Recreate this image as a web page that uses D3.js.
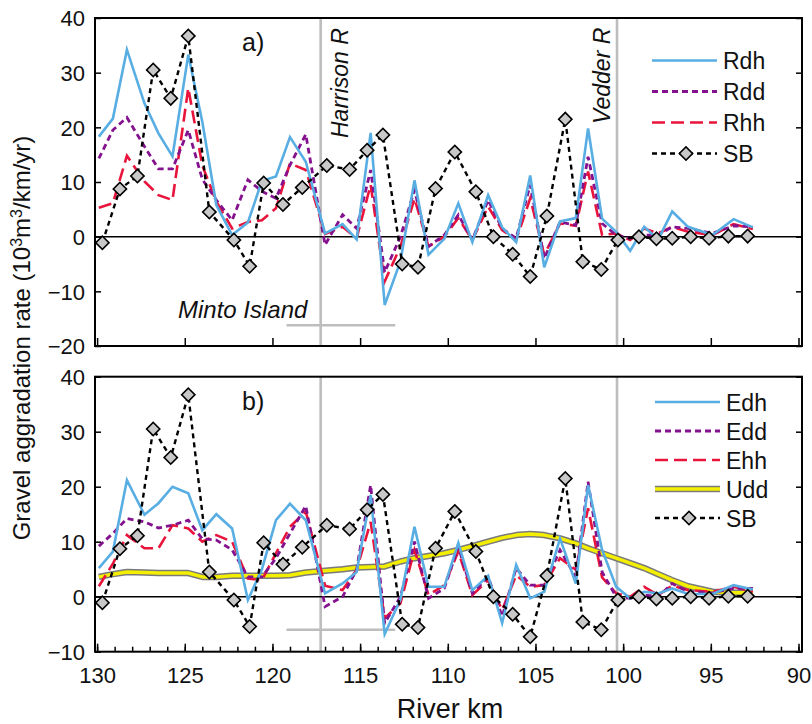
<!DOCTYPE html>
<html>
<head>
<meta charset="utf-8">
<script src="https://cdn.jsdelivr.net/npm/d3@7"></script>
<style>
  body { margin: 0; background: #fff; }
  svg text { font-family: "Liberation Sans", Arial, Helvetica, sans-serif; fill: #111; }
</style>
</head>
<body>
<div id="chart"></div>
<script>
// model nodes (river km) shared by all model runs
const modelKm = [129.9, 129.1, 128.3, 127.3, 126.5, 125.7, 124.8, 124.0, 123.2, 122.3, 121.4, 120.6, 119.8, 119.0, 118.1, 117.0,
  116.0, 115.2, 114.4, 113.6, 112.7, 111.9, 111.1, 110.2, 109.4, 108.6, 107.7, 106.9, 106.1, 105.3, 104.5, 103.6,
  102.7, 102.0, 101.2, 100.4, 99.6, 98.8, 98.0, 97.2, 96.3, 94.9, 93.7, 92.6];

const Rdh = [18.3, 21.6, 34.2, 24.4, 18.9, 14.7, 33.3, 21.0, 5.8, 0.3, 2.6, 10.2, 11.0, 18.2, 13.7, 0.6,
  2.3, -0.5, 19.0, -12.5, -4.5, 10.3, -3.3, -0.4, 6.1, -1.0, 7.6, 1.7, -1.0, 11.2, -5.6, 2.8,
  3.4, 19.8, 3.3, 0.9, -2.6, 1.8, -0.5, 4.6, 1.8, 0.3, 3.2, 1.7];
const Rdd = [14.3, 19.5, 21.8, 16.5, 12.4, 12.4, 19.5, 10.5, 6.7, 3.0, 10.4, 8.3, 7.0, 13.1, 18.7, -1.5,
  4.0, 1.5, 12.2, -6.5, 0.0, 8.5, -1.8, 0.3, 4.0, -0.6, 6.7, 1.5, -0.3, 9.5, -4.0, 2.7,
  2.1, 14.6, 2.4, 0.3, -0.3, 0.3, 0.3, 1.8, 1.5, 0.6, 2.0, 1.8];
const Rhh = [5.3, 6.1, 14.8, 10.1, 7.6, 6.7, 27.2, 13.0, 6.4, 1.5, 2.7, 3.0, 5.2, 13.4, 12.2, 0.5,
  1.8, -0.3, 9.5, -8.2, -1.8, 7.0, -1.8, 0.0, 3.4, -0.6, 5.5, 1.2, -0.6, 7.0, -3.3, 2.4,
  2.0, 11.9, 0.3, 0.6, -0.6, 1.5, 0.6, 1.8, 0.9, 0.3, 2.3, 1.4];

const Edh = [5.2, 8.2, 21.2, 14.9, 17.0, 20.0, 18.8, 12.1, 15.0, 12.4, -0.6, 5.0, 13.9, 16.9, 13.9, 0.6,
  2.4, 4.5, 18.5, -6.8, -0.5, 12.7, 1.8, 1.8, 9.8, 1.2, 3.8, -4.8, 5.8, -0.3, 0.9, 10.6,
  2.4, 20.3, 8.5, 1.8, -0.3, 0.9, 0.6, 1.5, 0.5, 0.5, 2.1, 1.3];
const Edd = [9.2, 11.5, 14.2, 13.6, 12.5, 13.0, 13.9, 10.5, 10.3, 8.5, 3.6, 3.6, 7.0, 11.5, 16.5, -1.8,
  0.0, 4.9, 20.3, -4.8, 0.0, 10.0, -0.3, 1.5, 9.1, 0.6, 3.6, -3.6, 5.2, 2.1, 2.1, 8.5,
  3.6, 20.9, 4.5, 0.0, -0.3, 0.3, 0.0, 2.4, 0.9, 0.7, 1.5, 1.5];
const Ehh = [1.9, 6.0, 11.2, 8.8, 8.8, 13.0, 12.4, 10.0, 11.2, 10.0, 3.3, 3.0, 7.9, 12.7, 15.5, 2.0,
  1.2, 4.9, 13.6, -3.9, -1.2, 8.5, 0.3, 2.1, 8.2, 0.3, 3.0, -2.4, 3.9, 1.8, 2.1, 7.0,
  4.9, 16.1, 3.5, 0.6, 0.0, 1.8, 0.3, 2.0, 1.2, 0.9, 1.8, 0.9];
const Udd = [3.6, 4.1, 4.5, 4.4, 4.3, 4.3, 4.3, 3.6, 3.6, 3.8, 3.8, 3.8, 3.8, 3.9, 4.4, 4.7,
  5.0, 5.3, 5.4, 5.5, 6.4, 7.0, 7.4, 7.9, 8.5, 9.2, 10.0, 10.7, 11.2, 11.4, 11.2, 10.6,
  9.7, 8.8, 7.9, 7.0, 6.1, 5.2, 4.1, 3.0, 1.9, 0.9, 0.7, 0.7];

// sediment budget (SB)
const sbKm = [129.7, 128.7, 127.7, 126.8, 125.8, 124.8, 123.6, 122.2, 121.3, 120.5, 119.4, 118.3, 116.9, 115.6, 114.6, 113.7,
  112.6, 111.7, 110.7, 109.6, 108.4, 107.4, 106.3, 105.3, 104.35, 103.3, 102.3, 101.25, 100.3, 99.1, 98.1, 97.2,
  96.15, 95.1, 94.0, 92.9];
const sbVal = [-1.1, 8.7, 11.1, 30.5, 25.3, 36.7, 4.5, -0.6, -5.4, 9.8, 5.9, 9.0, 13.0, 12.3, 15.8, 18.6,
  -5.0, -5.6, 8.8, 15.5, 8.2, 0.0, -3.2, -7.3, 3.8, 21.5, -4.6, -6.0, -0.6, 0.0, -0.4, -0.3,
  0.0, -0.3, 0.1, 0.1];

const xTicks = [130, 125, 120, 115, 110, 105, 100, 95, 90];
const yTicksA = [-20, -10, 0, 10, 20, 30, 40];
const yTicksB = [-10, 0, 10, 20, 30, 40];

const harrisonKm = 117.25, vedderKm = 100.35;
const mintoKm = [119.2, 113.0];

const width = 812, height = 724;
const left = 95, right = 802;

const svg = d3.select("#chart").append("svg")
    .attr("width", width)
    .attr("height", height);

const x = d3.scaleLinear().domain([130.12, 89.8]).range([left, right]);

const styles = {
    dh: {stroke: "#58aee3", width: 2.6, dash: null},
    dd: {stroke: "#84118e", width: 2.8, dash: "6,4"},
    hh: {stroke: "#e8143c", width: 2.6, dash: "13,6"},
    sb: {stroke: "#000", width: 2.4, dash: "5,4"}
};

function drawPanel(cfg) {
    const y = d3.scaleLinear().domain(cfg.yDomain).range([cfg.bottom, cfg.top]);
    const g = svg.append("g");

    // river confluences
    [harrisonKm, vedderKm].forEach(k => {
        g.append("line")
            .attr("x1", x(k)).attr("x2", x(k))
            .attr("y1", cfg.top).attr("y2", cfg.bottom)
            .attr("stroke", "#bdbdbd").attr("stroke-width", 2.6);
    });
    g.append("line")
        .attr("x1", x(mintoKm[0])).attr("x2", x(mintoKm[1]))
        .attr("y1", y(cfg.mintoY)).attr("y2", y(cfg.mintoY))
        .attr("stroke", "#bdbdbd").attr("stroke-width", 2.6);

    // zero line
    g.append("line")
        .attr("x1", left).attr("x2", right)
        .attr("y1", y(0)).attr("y2", y(0))
        .attr("stroke", "#000").attr("stroke-width", 1.5);

    const line = d3.line().x(d => x(d[0])).y(d => y(d[1]));

    if (cfg.udd) {
        const pts = modelKm.map((k, i) => [k, cfg.udd[i]]);
        g.append("path").attr("d", line(pts)).attr("fill", "none")
            .attr("stroke", "#7a7a7a").attr("stroke-width", 6.5).attr("stroke-linejoin", "round");
        g.append("path").attr("d", line(pts)).attr("fill", "none")
            .attr("stroke", "#f4ee00").attr("stroke-width", 3.5).attr("stroke-linejoin", "round");
    }

    cfg.series.slice().reverse().forEach(s => {
        const st = styles[s.style];
        g.append("path")
            .attr("d", line(modelKm.map((k, i) => [k, s.values[i]])))
            .attr("fill", "none")
            .attr("stroke", st.stroke)
            .attr("stroke-width", st.width)
            .attr("stroke-dasharray", st.dash);
    });

    // SB dashed line with diamonds
    const sbPts = sbKm.map((k, i) => [k, sbVal[i]]);
    g.append("path").attr("d", line(sbPts)).attr("fill", "none")
        .attr("stroke", "#000").attr("stroke-width", styles.sb.width)
        .attr("stroke-dasharray", styles.sb.dash);
    const diamond = d3.symbol().type(d3.symbolSquare).size(88);
    g.selectAll(".sb").data(sbPts).enter().append("path")
        .attr("class", "sb")
        .attr("d", diamond)
        .attr("transform", d => "translate(" + x(d[0]) + "," + y(d[1]) + ") rotate(45)")
        .attr("fill", "#c8c8c8").attr("stroke", "#000").attr("stroke-width", 1.6);

    // frame
    g.append("rect")
        .attr("x", left).attr("y", cfg.top)
        .attr("width", right - left).attr("height", cfg.bottom - cfg.top)
        .attr("fill", "none").attr("stroke", "#000").attr("stroke-width", 2);

    // axes
    const yl = g.append("g").attr("transform", "translate(" + left + ",0)")
        .call(d3.axisLeft(y).tickValues(cfg.yTicks).tickSize(-6).tickPadding(10));
    yl.select(".domain").remove();
    yl.selectAll("text").style("font-size", "22px").attr("dy", "0.36em");
    yl.selectAll("line").attr("stroke-width", 1.5);

    const yr = g.append("g").attr("transform", "translate(" + right + ",0)")
        .call(d3.axisRight(y).tickValues(cfg.yTicks).tickSize(-6).tickFormat(""));
    yr.select(".domain").remove();
    yr.selectAll("line").attr("stroke-width", 1.5);

    const xb = g.append("g").attr("transform", "translate(0," + cfg.bottom + ")")
        .call(d3.axisBottom(x).tickValues(xTicks).tickSize(-8).tickPadding(16)
            .tickFormat(cfg.xLabels ? d3.format("d") : ""));
    xb.select(".domain").remove();
    xb.selectAll("text").style("font-size", "22px");
    xb.selectAll("line").attr("stroke-width", 1.5);

    if (cfg.minorTicks) {
        const xm = g.append("g").attr("transform", "translate(0," + cfg.bottom + ")")
            .call(d3.axisBottom(x).tickValues(d3.range(90, 131)).tickSize(-5).tickFormat(""));
        xm.select(".domain").remove();
        xm.selectAll("line").attr("stroke-width", 1.5);
    }

    // panel letter
    g.append("text").attr("x", 242).attr("y", cfg.top + 33)
        .style("font-size", "25px").text(cfg.letter);

    // legend
    const lg = g.append("g");
    const entries = cfg.series.map(s => ({name: s.name, style: s.style}));
    if (cfg.udd) entries.push({name: "Udd", style: "udd"});
    entries.push({name: "SB", style: "sb"});
    entries.forEach((e, i) => {
        const ly = cfg.legendTop + i * cfg.legendStep;
        if (e.style === "udd") {
            lg.append("line").attr("x1", cfg.legendX).attr("x2", cfg.legendX + 65)
                .attr("y1", ly).attr("y2", ly).attr("stroke", "#7a7a7a").attr("stroke-width", 6.5);
            lg.append("line").attr("x1", cfg.legendX).attr("x2", cfg.legendX + 65)
                .attr("y1", ly).attr("y2", ly).attr("stroke", "#f4ee00").attr("stroke-width", 3.5);
        } else {
            const st = styles[e.style];
            lg.append("line").attr("x1", cfg.legendX).attr("x2", cfg.legendX + 65)
                .attr("y1", ly).attr("y2", ly)
                .attr("stroke", st.stroke).attr("stroke-width", st.width)
                .attr("stroke-dasharray", st.dash);
            if (e.style === "sb") {
                lg.append("path").attr("d", diamond)
                    .attr("transform", "translate(" + (cfg.legendX + 34) + "," + ly + ") rotate(45)")
                    .attr("fill", "#c8c8c8").attr("stroke", "#000").attr("stroke-width", 1.6);
            }
        }
        lg.append("text").attr("x", cfg.legendX + 71).attr("y", ly + 8.5)
            .style("font-size", "23px").text(e.name);
    });

    return {g: g, y: y};
}

const pa = drawPanel({
    top: 18, bottom: 346, yDomain: [-20, 40], yTicks: yTicksA, letter: "a)",
    mintoY: -16.2, xLabels: false, minorTicks: false,
    series: [{name: "Rdh", values: Rdh, style: "dh"}, {name: "Rdd", values: Rdd, style: "dd"}, {name: "Rhh", values: Rhh, style: "hh"}],
    legendX: 652, legendTop: 60.5, legendStep: 31
});

const pb = drawPanel({
    top: 376.7, bottom: 651.7, yDomain: [-10, 40], yTicks: yTicksB, letter: "b)",
    mintoY: -6, xLabels: true, minorTicks: true, udd: Udd,
    series: [{name: "Edh", values: Edh, style: "dh"}, {name: "Edd", values: Edd, style: "dd"}, {name: "Ehh", values: Ehh, style: "hh"}],
    legendX: 655, legendTop: 402, legendStep: 29
});

// annotations in panel a
svg.append("text")
    .attr("transform", "translate(" + (x(harrisonKm) + 27) + ",138) rotate(-90)")
    .style("font-size", "23px").style("font-style", "italic").text("Harrison R");
svg.append("text")
    .attr("transform", "translate(" + (x(vedderKm) - 7) + ",124) rotate(-90)")
    .style("font-size", "23px").style("font-style", "italic").text("Vedder R");
svg.append("text")
    .attr("x", 178).attr("y", 318)
    .style("font-size", "24px").style("font-style", "italic").text("Minto Island");

// axis titles
const yt = svg.append("text")
    .attr("transform", "translate(30,338) rotate(-90)")
    .attr("text-anchor", "middle")
    .style("font-size", "24px");
yt.append("tspan").text("Gravel aggradation rate (10");
yt.append("tspan").attr("baseline-shift", "super").style("font-size", "16px").text("3");
yt.append("tspan").text("m");
yt.append("tspan").attr("baseline-shift", "super").style("font-size", "16px").text("3");
yt.append("tspan").text("/km/yr)");

svg.append("text")
    .attr("x", 450).attr("y", 718)
    .attr("text-anchor", "middle")
    .style("font-size", "27px")
    .text("River km");
</script>
</body>
</html>
